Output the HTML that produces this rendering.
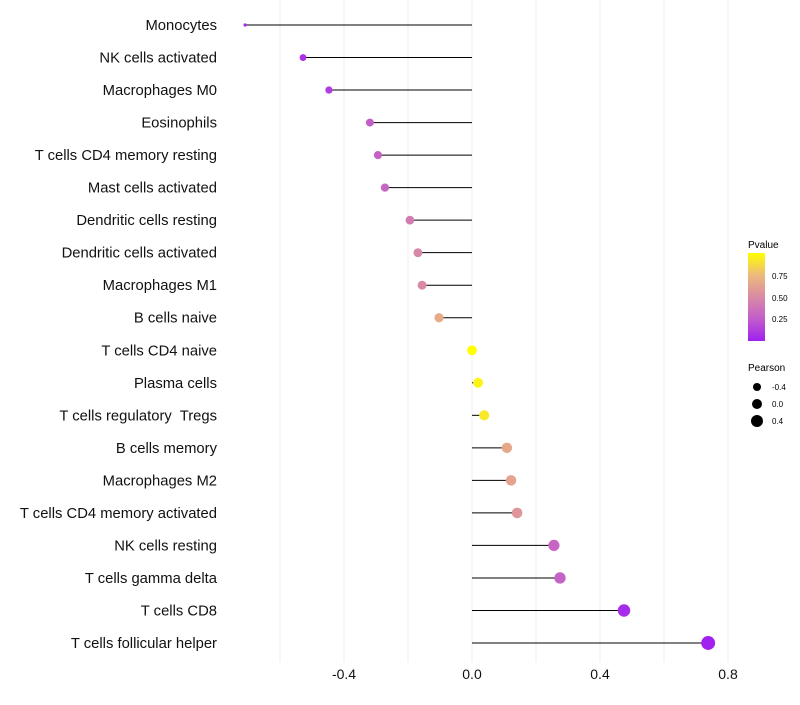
<!DOCTYPE html>
<html><head><meta charset="utf-8"><style>
body{margin:0;background:#fff;font-family:"Liberation Sans",sans-serif}
</style></head><body>
<svg id="chart" width="800" height="700" xmlns="http://www.w3.org/2000/svg" font-family="Liberation Sans, sans-serif">
<defs><linearGradient id="pg" x1="0" y1="1" x2="0" y2="0">
<stop offset="0" stop-color="#A020F0"/><stop offset="0.25" stop-color="#C25CCB"/><stop offset="0.5" stop-color="#D98BA5"/><stop offset="0.75" stop-color="#EDB97C"/><stop offset="1" stop-color="#FFFF00"/></linearGradient></defs>
<g id="grid"></g><g id="marks"></g><g id="labels"></g><g id="xticks"></g>
<g>
<text x="748" y="248" font-size="10">Pvalue</text>
<rect x="748" y="253" width="17" height="88" fill="url(#pg)"/>
<text x="772" y="279" font-size="8">0.75</text><text x="772" y="301" font-size="8">0.50</text><text x="772" y="322" font-size="8">0.25</text>
</g>
<g>
<text x="748" y="371" font-size="10">Pearson</text>
<circle cx="757" cy="387" r="4" fill="#000"/><text x="772" y="390" font-size="8">-0.4</text>
<circle cx="757" cy="404" r="5" fill="#000"/><text x="772" y="407" font-size="8">0.0</text>
<circle cx="757" cy="421" r="6" fill="#000"/><text x="772" y="424" font-size="8">0.4</text>
</g>
</svg>
<script>
const categories=["Monocytes","NK cells activated","Macrophages M0","Eosinophils","T cells CD4 memory resting","Mast cells activated","Dendritic cells resting","Dendritic cells activated","Macrophages M1","B cells naive","T cells CD4 naive","Plasma cells","T cells regulatory\u00a0 Tregs","B cells memory","Macrophages M2","T cells CD4 memory activated","NK cells resting","T cells gamma delta","T cells CD8","T cells follicular helper"];
const pearson=[-0.709,-0.528,-0.447,-0.319,-0.294,-0.272,-0.194,-0.169,-0.156,-0.103,0.0,0.019,0.038,0.109,0.122,0.141,0.256,0.275,0.475,0.738];
const pvalue=[0.03,0.08,0.12,0.26,0.28,0.3,0.42,0.48,0.5,0.68,1.0,0.96,0.92,0.66,0.63,0.56,0.3,0.28,0.05,0.01];
const xTicks=[-0.4,0.0,0.4,0.8];
const xGrid=[-0.6,-0.4,-0.2,0,0.2,0.4,0.6,0.8];
const NS="http://www.w3.org/2000/svg";
const x=v=>472+v*320;
const y=i=>25+i*(618/19);
const r=v=>v<-0.65?1.6:Math.min(7.2,4.9+2.8*v);
const stops=[[160,32,240],[194,92,203],[217,139,165],[237,185,124],[255,255,0]];
function col(p){p=Math.max(0,Math.min(1,p));const s=p*4,i=Math.min(3,Math.floor(s)),t=s-i;const a=stops[i],b=stops[i+1];return `rgb(${a.map((c,k)=>Math.round(c+(b[k]-c)*t)).join(',')})`;}
function mk(tag,attrs,parent){const e=document.createElementNS(NS,tag);for(const k in attrs)e.setAttribute(k,attrs[k]);document.getElementById(parent).appendChild(e);return e;}
xGrid.forEach(v=>{const g=mk('line',{x1:x(v),x2:x(v),y1:0,y2:662,stroke:'#efefef','stroke-width':1},'grid');

});
categories.forEach((c,i)=>{
const l=mk('line',{x1:x(0),x2:x(pearson[i]),y1:y(i),y2:y(i),stroke:'#000','stroke-width':1},'marks');


const d=mk('circle',{cx:x(pearson[i]),cy:y(i),r:r(pearson[i]),fill:col(pvalue[i])},'marks');


const t=mk('text',{x:217,y:y(i)+5,'text-anchor':'end','font-size':14.8,fill:'#111'},'labels');
t.textContent=c;


});
xTicks.forEach(v=>{const t=mk('text',{x:x(v),y:679,'text-anchor':'middle','font-size':14,fill:'#111'},'xticks');
t.textContent=v.toFixed(1);

});
</script>
</body></html>
